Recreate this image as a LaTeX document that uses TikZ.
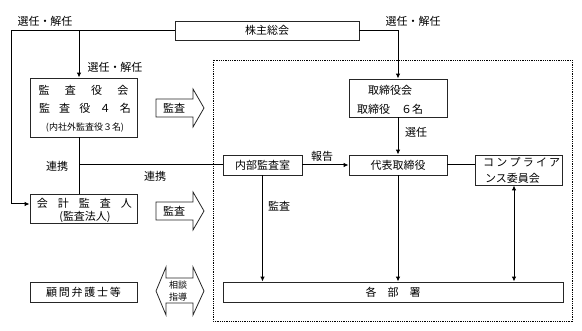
\documentclass[tikz,border=0pt]{standalone}
\usepackage{fontspec}
\setmainfont{Noto Sans CJK JP}
\usetikzlibrary{arrows.meta,calc}
\begin{document}
\begin{tikzpicture}[x=1pt,y=-1pt,
  box/.style={draw=black!85,line width=0.8pt,inner sep=0pt,rectangle,font=\fontsize{11}{13}\selectfont},
  txt/.style={inner sep=0pt,font=\fontsize{11}{13}\selectfont},
  smalltxt/.style={inner sep=0pt,font=\fontsize{9}{11}\selectfont},
  arr/.style={line width=1pt,-{Latex[length=5pt,width=4.5pt]}},
  dblarr/.style={line width=1pt,{Latex[length=5pt,width=4.5pt]}-{Latex[length=5pt,width=4.5pt]}},
  ln/.style={line width=1pt},
  blockarrow/.style={draw=black!85,line width=0.8pt,fill=white}]
\useasboundingbox (0,0) rectangle (582,331);

% dotted company frame
\draw[line width=0.9pt,dash pattern=on 0.9pt off 0.9pt] (213,60) rectangle (572,321);

% boxes
\node[box,minimum width=184pt,minimum height=19pt] (kabu) at (267,30.5) {株主総会};
\node[box,minimum width=107pt,minimum height=59pt] (kansa) at (83.5,107.5) {};
\node[txt] (kansaA) at (83.5,90) {\makebox[90pt][s]{監\hfill 査\hfill 役\hfill 会}};
\node[txt] (kansaB) at (85,108) {\makebox[92pt][s]{監\hfill 査\hfill 役\hfill ４\hfill 名}};
\node[smalltxt] (kansaC) at (85,128) {(内社外監査役３名)};

\node[box,minimum width=107pt,minimum height=29pt] (kaikei) at (83.5,208.5) {};
\node[txt] (kaikeiA) at (84.5,203) {\makebox[95pt][s]{会\hfill 計\hfill 監\hfill 査\hfill 人}};
\node[txt] (kaikeiB) at (85,217) {(監査法人)};

\node[box,minimum width=107pt,minimum height=20pt] (komon) at (83.5,292) {\makebox[75pt][s]{顧\hfill 問\hfill 弁\hfill 護\hfill 士\hfill 等}};

\node[box,minimum width=98pt,minimum height=38pt] (tori) at (398,98) {};
\node[txt] (toriA) at (390,90) {取締役会};
\node[txt] (toriB) at (390,109) {取締役　６名};

\node[box,minimum width=98pt,minimum height=20pt] (daihyo) at (398,165) {代表取締役};
\node[box,minimum width=79pt,minimum height=20pt] (naibu) at (262.5,165) {内部監査室};
\node[box,minimum width=87pt,minimum height=30pt] (comp) at (518.5,170) {};
\node[txt,anchor=west] (compA) at (483,162.5) {\makebox[77pt][s]{コ\hfill ン\hfill プ\hfill ラ\hfill イ\hfill ア}};
\node[txt,anchor=west] (compB) at (485,178) {ンス委員会};

\node[box,minimum width=340pt,minimum height=20pt] (kaku) at (393,292) {\makebox[55pt][s]{各\hfill 部\hfill 署}};

% block arrows
\draw[blockarrow] (156,99) -- (193,99) -- (193,89) -- (204,108) -- (193,127) -- (193,117) -- (156,117) -- cycle;
\node[txt] (kansaArrow1) at (174,108) {監査};
\draw[blockarrow] (156,202) -- (193,202) -- (193,192) -- (204,211) -- (193,230) -- (193,220) -- (156,220) -- cycle;
\node[txt] (kansaArrow2) at (174,211) {監査};
\draw[blockarrow] (156,291) -- (166,267) -- (166,278) -- (193,278) -- (193,267) -- (204,291) -- (193,315) -- (193,303) -- (166,303) -- (166,315) -- cycle;
\node[smalltxt] (soudan) at (178,285) {相談};
\node[smalltxt] (shidou) at (178,297.5) {指導};

% connectors
\coordinate (L) at (11,204);
\coordinate (v) at (79,0);
\coordinate (cx) at (514,0);
\draw[arr] (kabu.west) -| (L) -- (kaikei.west |- L);
\draw[arr] (v |- kabu.west) -- (v |- kansa.north);
\draw[ln] (v |- kansa.south) -- (v |- kaikei.north);
\draw[ln] (v |- naibu.west) -- (naibu.west);
\draw[arr] (kabu.east) -| (tori.north);
\draw[arr] (tori.south) -- (daihyo.north);
\draw[arr] (naibu.east) -- (daihyo.west);
\draw[ln] (daihyo.east) -- (comp.west |- daihyo.east);
\draw[arr] (naibu.south) -- (naibu.south |- kaku.north);
\draw[arr] (daihyo.south) -- (daihyo.south |- kaku.north);
\draw[dblarr] (cx |- comp.south) -- (cx |- kaku.north);

% labels
\node[txt] (lab1) at (45,21) {選任・解任};
\node[txt] (lab2) at (115,67) {選任・解任};
\node[txt] (lab3) at (413,21) {選任・解任};
\node[txt] (lab4) at (416,132) {選任};
\node[txt] (lab5) at (322,156) {報告};
\node[txt] (lab6) at (57,166) {連携};
\node[txt] (lab7) at (155,176) {連携};
\node[txt] (lab8) at (279,206) {監査};
\end{tikzpicture}
\end{document}
